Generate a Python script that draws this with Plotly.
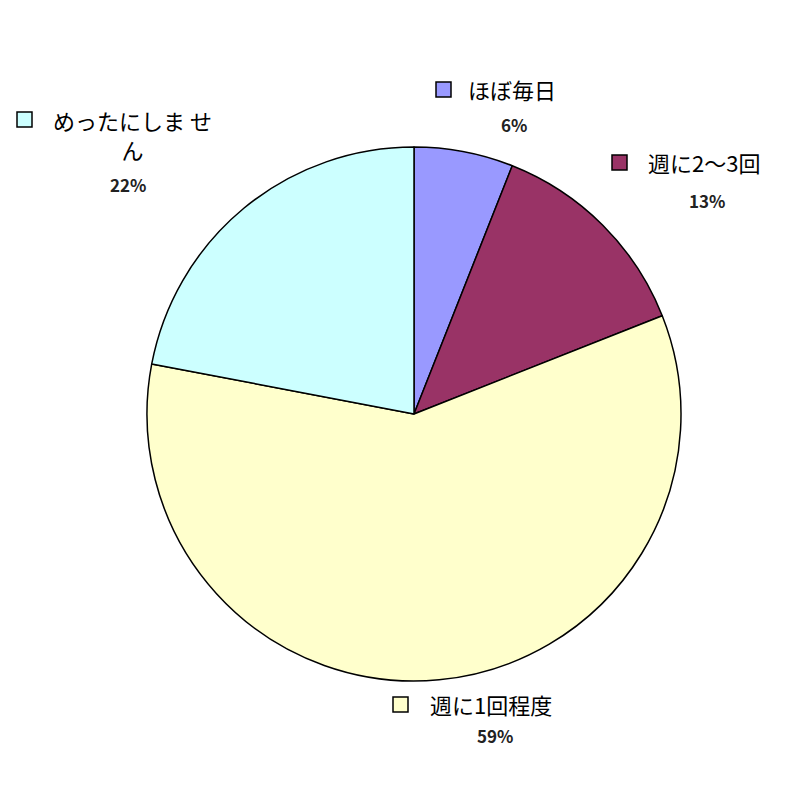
import plotly.graph_objects as go

# pie data
labels = ["ほぼ毎日", "週に2～3回", "週に1回程度", "めったにしません"]
values = [6, 13, 59, 22]
colors = ["#9999FF", "#993366", "#FFFFCC", "#CCFFFF"]

# label text as drawn (the long one wraps)
label_lines = ["ほぼ毎日", "週に2～3回", "週に1回程度", "めったにしま せ<br>ん"]

FONT = "Noto Sans CJK JP, MS PGothic, sans-serif"
OFF = 8  # page body margin in the browser


def px(x, y):
    # screen pixel -> paper coords
    return (x - OFF) / 800, 1 - (y - OFF) / 800


fig = go.Figure()

cx, cy, r = 414, 414, 267
x0, y1 = px(cx - r, cy - r)
x1, y0 = px(cx + r, cy + r)

fig.add_trace(go.Pie(
    labels=labels,
    values=values,
    sort=False,
    direction="clockwise",
    rotation=0,
    marker=dict(colors=colors, line=dict(color="black", width=1.5)),
    textinfo="none",
    hoverinfo="label+percent",
    showlegend=False,
    domain=dict(x=[x0, x1], y=[y0, y1]),
))

# label block positions (screen px): text centre, pct centre, key square top-left
label_pos = [
    dict(text=(512, 89), pct=(514, 124), key=(436, 82)),
    dict(text=(704, 162), pct=(707, 200), key=(612, 155)),
    dict(text=(491, 704), pct=(495, 735), key=(393, 697)),
    dict(text=(132, 135), pct=(128, 185), key=(17, 112)),
]

for lab, val, col, pos in zip(label_lines, values, colors, label_pos):
    tx, ty = px(*pos["text"])
    fig.add_annotation(x=tx, y=ty, xref="paper", yref="paper",
                       xanchor="center", yanchor="middle",
                       text=lab, showarrow=False, align="center",
                       font=dict(family=FONT, size=22, color="black"))
    qx, qy = px(*pos["pct"])
    fig.add_annotation(x=qx, y=qy, xref="paper", yref="paper",
                       xanchor="center", yanchor="middle",
                       text=f"<b>{val}%</b>", showarrow=False,
                       font=dict(family=FONT, size=17, color="#222222"))
    kx0, ky1 = px(*pos["key"])
    kx1, ky0 = px(pos["key"][0] + 15, pos["key"][1] + 15)
    fig.add_shape(type="rect", xref="paper", yref="paper",
                  x0=kx0, x1=kx1, y0=ky0, y1=ky1,
                  fillcolor=col, line=dict(color="black", width=1.5))

fig.update_layout(
    width=800, height=800,
    margin=dict(l=0, r=0, t=0, b=0),
    paper_bgcolor="white",
    plot_bgcolor="white",
)

fig.write_html("out.html")
